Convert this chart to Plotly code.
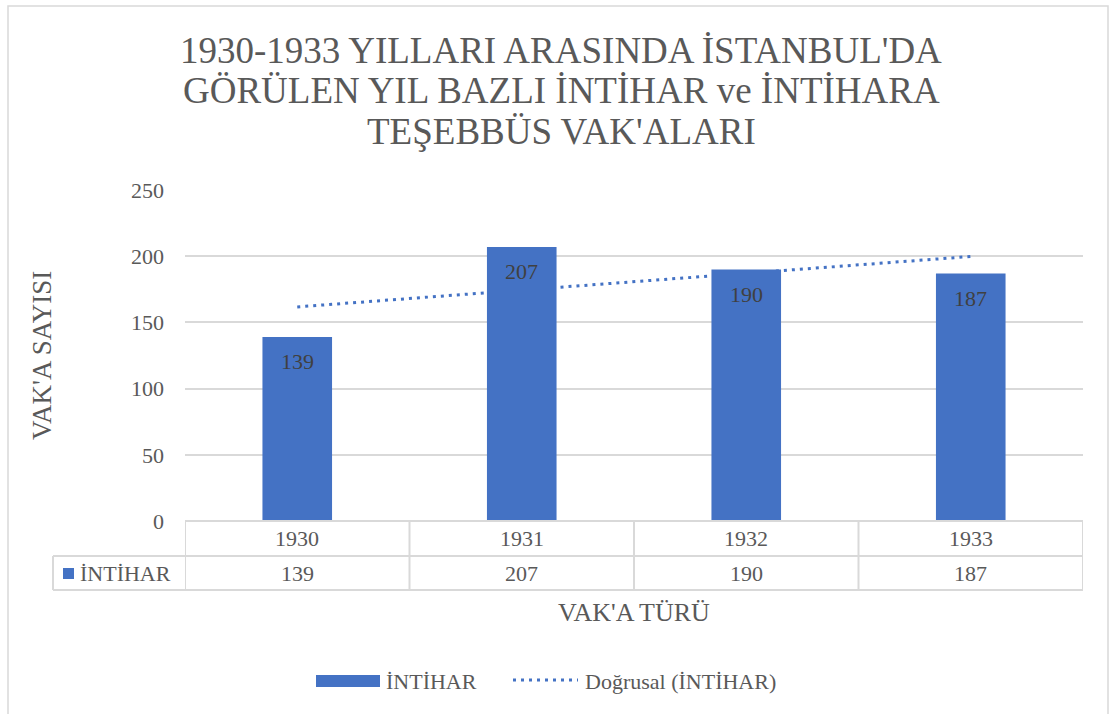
import numpy as np
import plotly.graph_objects as go

years = ["1930", "1931", "1932", "1933"]
intihar = [139, 207, 190, 187]
title_lines = ["1930-1933 YILLARI ARASINDA İSTANBUL'DA",
               "GÖRÜLEN YIL BAZLI İNTİHAR ve İNTİHARA",
               "TEŞEBBÜS VAK'ALARI"]
series_name = "İNTİHAR"
trend_name = "Doğrusal (İNTİHAR)"
y_title = "VAK'A SAYISI"
x_title = "VAK'A TÜRÜ"

W, H = 1109, 714
L, R, T, B = 185, 1083, 190, 521
FONT = "Liberation Serif"
TXT = "#595959"
BLUE = "#4472C4"
GRID = "#D9D9D9"

def px(x):
    return (x - L) / (R - L)

def py(y):
    return (B - y) / (B - T)

# linear trendline (Excel "Doğrusal")
xi = np.arange(1, len(intihar) + 1)
slope, icpt = np.polyfit(xi, intihar, 1)
trend = slope * xi + icpt

fig = go.Figure()
# trendline on the base axes (drawn underneath)
fig.add_trace(go.Scatter(
    x=years, y=trend, mode="lines", name=trend_name,
    line=dict(color=BLUE, width=3, dash="3px,5px"),
    showlegend=False, hoverinfo="skip", xaxis="x", yaxis="y",
))
# bars on an overlaid axis so they sit above the trendline
fig.add_trace(go.Bar(
    x=years, y=intihar, name=series_name, marker_color=BLUE,
    marker_line_width=0, showlegend=False, xaxis="x", yaxis="y2",
))

shapes = []
annotations = []

def ann(x, y, text, size, xref="paper", yref="paper", xanchor="center",
        color=TXT, **kw):
    annotations.append(dict(x=x, y=y, xref=xref, yref=yref, text=text,
                            showarrow=False, xanchor=xanchor, yanchor="middle",
                            font=dict(family=FONT, size=size, color=color), **kw))

# data labels inside bars
for i, v in enumerate(intihar):
    ann(i, v, str(v), 22, xref="x", yref="y", color="#404040", yshift=-25)

# outer chart border
shapes.append(dict(type="rect", xref="paper", yref="paper",
                   x0=px(8), x1=px(1108), y0=py(730), y1=py(6),
                   line=dict(color=GRID, width=1.5), layer="below"))

# data table lines
line_style = dict(color=GRID, width=2)
y_top, y_mid, y_bot = py(521), py(556), py(590)
shapes.append(dict(type="line", xref="paper", yref="paper",
                   x0=0, x1=1, y0=y_top, y1=y_top, line=line_style))
for yy in (y_mid, y_bot):
    shapes.append(dict(type="line", xref="paper", yref="paper",
                       x0=px(53), x1=1, y0=yy, y1=yy, line=line_style))
shapes.append(dict(type="line", xref="paper", yref="paper",
                   x0=px(53), x1=px(53), y0=y_mid, y1=y_bot, line=line_style))
for i in range(len(years) + 1):
    shapes.append(dict(type="line", xref="x", yref="paper",
                       x0=i - 0.5, x1=i - 0.5, y0=y_top, y1=y_bot, line=line_style))

for i, (yr, v) in enumerate(zip(years, intihar)):
    ann(i, (y_top + y_mid) / 2, yr, 22, xref="x")
    ann(i, (y_mid + y_bot) / 2, str(v), 22, xref="x")

# legend key inside table
shapes.append(dict(type="rect", xref="paper", yref="paper",
                   x0=px(63), x1=px(74), y0=py(579), y1=py(568),
                   fillcolor=BLUE, line=dict(width=0)))
ann(px(78), py(573), series_name, 22, xanchor="left")

# title lines
for t, yc in zip(title_lines, (50, 91, 131)):
    ann(px(561), py(yc), t, 37)

# axis titles
ann(px(42), py(356), y_title, 27, textangle=-90)
ann(px(634), py(612), x_title, 26)

# bottom legend
shapes.append(dict(type="rect", xref="paper", yref="paper",
                   x0=px(316), x1=px(380), y0=py(687), y1=py(675),
                   fillcolor=BLUE, line=dict(width=0)))
ann(px(384), py(681), series_name, 22, xanchor="left")
shapes.append(dict(type="line", xref="paper", yref="paper",
                   x0=px(513), x1=px(578), y0=py(680), y1=py(680),
                   line=dict(color=BLUE, width=3, dash="3px,5px")))
ann(px(583), py(681), trend_name, 22, xanchor="left")

fig.update_layout(
    width=W, height=H,
    margin=dict(l=L, r=W - R, t=T, b=H - B, pad=0),
    paper_bgcolor="white", plot_bgcolor="white",
    bargap=0.69,
    shapes=shapes, annotations=annotations,
    font=dict(family=FONT, color=TXT),
    xaxis=dict(type="category", showticklabels=False, showgrid=False,
               showline=False, zeroline=False, ticks="",
               categoryorder="array", categoryarray=years,
               range=[-0.5, len(years) - 0.5]),
    yaxis=dict(range=[0, 250], dtick=50, showgrid=True, gridcolor=GRID,
               gridwidth=2, zeroline=False, showline=False, ticks="",
               ticklabelstandoff=20,
               tickfont=dict(family=FONT, size=22, color=TXT)),
    yaxis2=dict(range=[0, 250], overlaying="y", side="left",
                showgrid=False, zeroline=False, showline=False,
                showticklabels=False, ticks=""),
)

fig.write_html("out.html", config={"displayModeBar": False},
               post_script="document.body.style.margin='0';document.body.style.padding='0';")
